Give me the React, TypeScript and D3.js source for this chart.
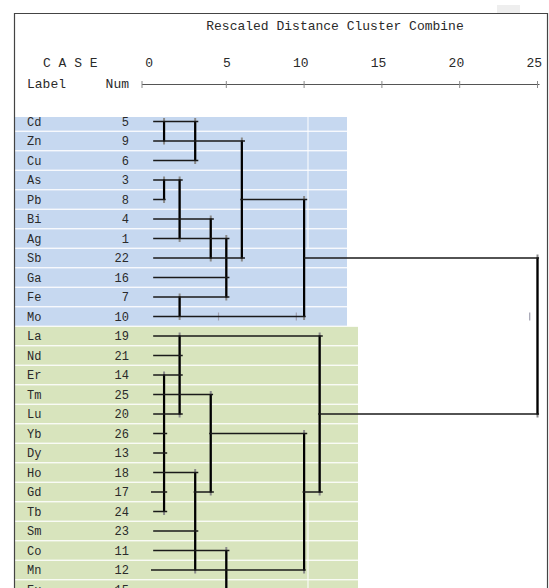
import React from "react";
import * as d3 from "d3";

// cases, top to bottom
const labels = ["Cd", "Zn", "Cu", "As", "Pb", "Bi", "Ag", "Sb", "Ga", "Fe", "Mo",
	"La", "Nd", "Er", "Tm", "Lu", "Yb", "Dy", "Ho", "Gd", "Tb", "Sm", "Co", "Mn", "Eu"];
const nums = [5, 9, 6, 3, 8, 4, 1, 22, 16, 7, 10, 19, 21, 14, 25, 20, 26, 13, 18, 17, 24, 23, 11, 12, 15];
const blueRows = 11; // first 11 cases shaded blue, the rest green
const ticks = [0, 5, 10, 15, 20, 25];

// horizontal links: [row, from distance, to distance]
const links = [
	[0, 0.3, 3.2], [1, 0.3, 6.2], [2, 0.3, 3.2], [3, 0.3, 2.2],
	[4, 0.3, 1.1], [4, 5.9, 10.2], [5, 0.3, 4.2], [6, 0.3, 5.2],
	[7, 0.3, 6.2], [7, 10, 25.1], [8, 0.3, 5.2], [9, 0.3, 5.2],
	[10, 0.3, 10.1], [11, 0.3, 11.2], [12, 0.3, 2.2], [13, 0.3, 2.2],
	[14, 0.3, 4.15], [15, 0.3, 2.2], [15, 10.9, 25.1], [16, 0.3, 1.2],
	[16, 3.9, 10.2], [17, 0.3, 1.2], [18, 0.3, 3.2], [19, 0.16, 1.2],
	[19, 2.9, 4.2], [19, 9.9, 11.2], [20, 0.3, 1.2], [21, 0.3, 3.2],
	[22, 0.3, 5.2], [23, 0.16, 10.1], [24, 0.3, 5.2],
];

// joins: [distance, first row, last row]
const joins = [
	[1, 0, 1], [3, 0, 2], [6, 1, 7], [1, 3, 4], [2, 3, 6], [4, 5, 7],
	[5, 6, 9], [2, 9, 10], [10, 4, 10], [25, 7, 15], [2, 11, 15], [1, 13, 20],
	[4, 14, 19], [11, 11, 19], [10, 16, 23], [3, 18, 23], [5, 22, 25],
];

// stray tick marks left in the output: [row, distance]
const marks = [[10, 4.5], [10, 9.5], [10, 24.5]];

const W = 549;
const H = 588;
const mono = "'Liberation Mono', 'Courier New', monospace";

export default function App() {
	const x = d3.scaleLinear().domain([0, 25]).range([148.5, 537.5]);
	const y = d3.scaleLinear().domain([0, 24]).range([121.5, 589.5]);
	const half = (y(1) - y(0)) / 2;

	return (
		<div style={{ position: "fixed", left: 0, top: 0 }}>
			<svg width={W} height={H} style={{ display: "block", background: "#fff" }}>
				{/* row shading */}
				{labels.map((l, i) => {
					const top = Math.max(117, y(i) - half + 0.6);
					const right = i < blueRows ? 347 : 358;
					return (
						<rect key={"bg" + l} x={14} y={top} width={right - 14}
							height={y(i) + half - 0.6 - top}
							fill={i < blueRows ? "#c6d8f0" : "#d8e4bd"}/>
					);
				})}
				<line x1={x(10.25)} x2={x(10.25)} y1={117} y2={y(6.5)} stroke="#fff" strokeWidth={1}/>
				<line x1={x(10.25)} x2={x(10.25)} y1={y(19.5)} y2={H} stroke="#fff" strokeWidth={1}/>

				{/* frame */}
				<rect x={497} y={5} width={23} height={8} fill="#eeeeee"/>
				<line x1={14} x2={548} y1={13.5} y2={13.5} stroke="#444" strokeWidth={1.2}/>
				<line x1={14.5} x2={14.5} y1={13} y2={H} stroke="#444" strokeWidth={1.2}/>
				<line x1={547.5} x2={547.5} y1={13} y2={H} stroke="#444" strokeWidth={1.2}/>

				{/* header */}
				<g style={{ fontFamily: mono, fontSize: "13px", fill: "#2a2a2a" }}>
					<text x={335} y={30} textAnchor="middle">Rescaled Distance Cluster Combine</text>
					<text x={43} y={67}>C A S E</text>
					<text x={27} y={88}>Label</text>
					<text x={129} y={88} textAnchor="end">Num</text>
					{ticks.map(t => (
						<text key={"t" + t} x={x(t) + 4.5} y={67} textAnchor="end">{t}</text>
					))}
				</g>
				<line x1={142} x2={x(25) + 2} y1={84.5} y2={84.5} stroke="#555" strokeWidth={1.2}/>
				<line x1={142} x2={142} y1={81} y2={88} stroke="#888" strokeWidth={1}/>
				{ticks.slice(1).map(t => (
					<line key={"k" + t} x1={x(t)} x2={x(t)} y1={81} y2={88} stroke="#888" strokeWidth={1}/>
				))}

				{/* case labels */}
				<g style={{ fontFamily: mono, fontSize: "12px", fill: "#2a2a2a" }}>
					{labels.map((l, i) => (
						<g key={"lab" + l}>
							<text x={27} y={y(i) + 4}>{l}</text>
							<text x={129} y={y(i) + 4} textAnchor="end">{nums[i]}</text>
						</g>
					))}
				</g>

				{/* dendrogram */}
				{marks.map(([r, d], i) => (
					<line key={"m" + i} x1={x(d)} x2={x(d)} y1={y(r) - 4} y2={y(r) + 4}
						stroke="#a0a0b0" strokeWidth={1.2}/>
				))}
				{joins.map(([d, a, b], i) => (
					<g key={"j" + i}>
						<line x1={x(d)} x2={x(d)} y1={y(a) - 3.5} y2={Math.min(H, y(b) + 3.5)}
							stroke="#8a8a8a" strokeWidth={2}/>
						<line x1={x(d)} x2={x(d)} y1={y(a) - 0.5} y2={y(b) + 0.5}
							stroke="#000" strokeWidth={2.2}/>
					</g>
				))}
				{links.map(([r, a, b], i) => (
					<line key={"h" + i} x1={x(a)} x2={x(b)} y1={y(r)} y2={y(r)}
						stroke="#1a1a1a" strokeWidth={1.5}/>
				))}
			</svg>
		</div>
	);
}
